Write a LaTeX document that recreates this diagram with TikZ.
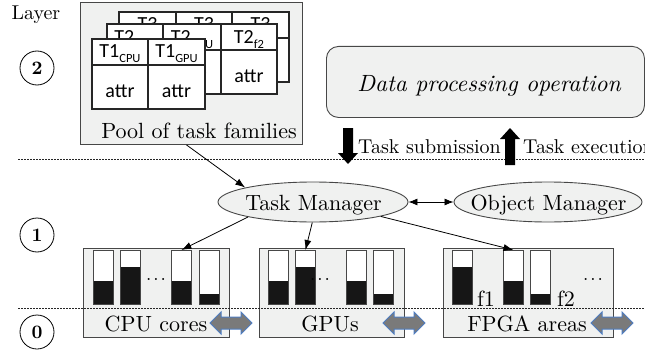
\documentclass[tikz,border=0pt]{standalone}
\usepackage{fontspec}
\setmainfont{lmroman10}[Extension=.otf, UprightFont=*-regular, BoldFont=*-bold, ItalicFont=*-italic, BoldItalicFont=*-bolditalic]
\newfontfamily\cardfont{Carlito}
\usetikzlibrary{arrows.meta,shapes.geometric}
\definecolor{boxfill}{HTML}{F0F1F0}
\definecolor{edge}{HTML}{474747}
\definecolor{bluee}{HTML}{4F7DC0}
\definecolor{arrgray}{HTML}{7A7A7A}
\definecolor{barblack}{HTML}{161616}
\newcommand\tlab[2]{{\cardfont T#1\raisebox{-5pt}{\fontsize{12.5}{13}\selectfont #2}}}
\newcommand\hwbar[3]{%
  \node[barbox, anchor=north west] (#1) at (#2,250) {};
  \fill[barblack] (#2,#3) rectangle (#2+20,304);
  \draw[barline] (#1.north west) rectangle (#1.south east);
}
\newcommand\hwarrow[2]{%
  \filldraw[blkarr] (#1-21,#2) -- (#1-10,#2-11) -- (#1-10,#2-6) -- (#1+10,#2-6) -- (#1+10,#2-11)
   -- (#1+21,#2) -- (#1+10,#2+11) -- (#1+10,#2+6) -- (#1-10,#2+6) -- (#1-10,#2+11) -- cycle;
}
\begin{document}
\begin{tikzpicture}[x=1pt,y=-1pt,
  txt/.style={font=\fontsize{22}{26}\selectfont, inner sep=0},
  smalltxt/.style={font=\fontsize{20}{24}\selectfont, inner sep=0},
  panel/.style={draw=edge, fill=boxfill, line width=0.9pt, inner sep=0},
  card/.style={draw=black!85, fill=white, line width=1.1pt},
  hd/.style={font=\cardfont\fontsize{20}{22}\selectfont, inner sep=0, anchor=base},
  numc/.style={draw, circle, minimum size=34pt, inner sep=0, line width=0.8pt,
    font=\bfseries\fontsize{19}{19}\selectfont},
  ell/.style={ellipse, draw=edge, fill=boxfill, line width=0.9pt, minimum width=190pt,
    minimum height=40pt},
  barbox/.style={draw=edge, fill=white, minimum width=20pt, minimum height=54pt, inner sep=0, line width=0.9pt},
  barline/.style={draw=edge, line width=0.9pt},
  blkarr/.style={fill=arrgray, draw=bluee, line width=1pt, line join=miter},
  dotline/.style={draw=black!85, line width=0.8pt, dash pattern=on 1.5pt off 1.5pt},
  arr/.style={draw=black, line width=0.8pt, -{Latex[length=10pt,width=7pt]}},
  dots/.style={font=\fontsize{19}{19}\selectfont, inner sep=0, anchor=base}
]
\useasboundingbox (0,0) rectangle (645,353);

% layer marks
\node[smalltxt, anchor=base] (layer) at (36,20) {Layer};
\node[numc] (n2) at (37,68) {2};
\node[numc] (n1) at (37,235) {1};
\node[numc] (n0) at (37,332) {0};

% pool of task families
\node[panel, anchor=north west, minimum width=222pt, minimum height=142pt] (pool) at (80,2) {};
% T3 row
\filldraw[card] (119,12) rectangle (289,82);
\draw[card] (119,38) -- (289,38) (176,12) -- (176,82) (232,12) -- (232,82);
\node[hd] (t3a) at (147.5,31) {\tlab{3}{}};
\node[hd] (t3b) at (204,31) {\tlab{3}{}};
\node[hd] (t3c) at (260.5,31) {\tlab{3}{}};
% T2 row
\filldraw[card] (107,24) rectangle (277,94);
\draw[card] (107,50) -- (277,50) (163,24) -- (163,94) (221,24) -- (221,94);
\node[hd] (t2a) at (135,44) {\tlab{2}{CPU}};
\node[hd] (t2b) at (192,44) {\tlab{2}{GPU}};
\node[hd] (t2c) at (249,44) {\tlab{2}{f2}};
\node[hd] (a2b) at (192,82) {attr};
\node[hd] (a2c) at (249,82) {attr};
% T1 row
\filldraw[card] (92,39) rectangle (205,109);
\draw[card] (92,65) -- (205,65) (148,39) -- (148,109);
\node[hd] (t1a) at (120,58) {\tlab{1}{CPU}};
\node[hd] (t1b) at (176.5,58) {\tlab{1}{GPU}};
\node[hd] (a1a) at (120,97) {attr};
\node[hd] (a1b) at (176.5,97) {attr};
\node[txt, anchor=base] (poollbl) at (199,138) {Pool of task families};

% data processing operation
\node[panel, rounded corners=12pt, anchor=north west, minimum width=318pt, minimum height=71pt] (dpo) at (326,46) {};
\node[inner sep=0, anchor=base, font=\itshape\fontsize{23.5}{27}\selectfont] (dpolbl) at (489,92) {Data processing operation};

% hardware boxes
\node[panel, anchor=north west, minimum width=146pt, minimum height=89pt] (cpu) at (83,248) {};
\node[panel, anchor=north west, minimum width=145pt, minimum height=89pt] (gpu) at (259,248) {};
\node[panel, anchor=north west, minimum width=170pt, minimum height=89pt] (fpga) at (443,248) {};

\hwbar{c1}{93}{281}
\hwbar{c2}{120}{267}
\hwbar{c3}{171}{281}
\hwbar{c4}{199}{294}
\hwbar{g1}{268}{281}
\hwbar{g2}{295}{267}
\hwbar{g3}{346}{281}
\hwbar{g4}{373}{294}
\hwbar{fa1}{452}{267}
\hwbar{fa2}{503}{281}
\hwbar{fa3}{530}{294}

\node[dots] (cdots) at (156,280) {.\kern2pt.\kern2pt.};
\node[dots] (gdots) at (320,280) {.\kern2pt.\kern2pt.};
\node[dots] (fdots) at (593,280) {.\kern2pt.\kern2pt.};
\node[txt, anchor=base] (f1) at (486,306) {f1};
\node[txt, anchor=base] (f2) at (566,306) {f2};

\node[txt, anchor=base] (cpulbl) at (156,331) {CPU cores};
\node[txt, anchor=base] (gpulbl) at (330,331) {GPUs};
\node[txt, anchor=base] (fpgalbl) at (527,331) {FPGA areas};

% dotted layer separators
\draw[dotline] (18,159) -- (645,159);
\draw[dotline] (18,308) -- (645,308);

\hwarrow{231}{323}
\hwarrow{404}{323}
\hwarrow{612}{323}

% task submission / execution
\fill[black] (343,128) -- (353,128) -- (353,153) -- (358,153) -- (348,164) -- (338,153) -- (343,153) -- cycle;
\fill[black] (505,165) -- (515,165) -- (515,139) -- (520,139) -- (510,128) -- (500,139) -- (505,139) -- cycle;
\node[smalltxt, anchor=base west] (tsub) at (358,153) {Task submission};
\node[smalltxt, anchor=base west] (texe) at (523,153) {Task execution};

% managers
\node[ell] (tm) at (313,202) {};
\node[ell, minimum width=188pt] (om) at (548,202) {};
\node[txt, anchor=base] (tmlbl) at (313.5,210) {Task Manager};
\node[txt, anchor=base] (omlbl) at (548.5,210) {Object Manager};
\draw[draw=black, line width=0.8pt, {Latex[length=9pt,width=7pt]}-{Latex[length=9pt,width=7pt]}] (tm) -- (om);

\draw[arr] ([xshift=-5pt]pool.south) -- (tm.168);
\draw[arr] (tm.193) -- (c3.north);
\draw[arr] (tm.268) -- (g2.north);
\draw[arr] (tm.-12) -- (fa2.north);
\end{tikzpicture}
\end{document}
